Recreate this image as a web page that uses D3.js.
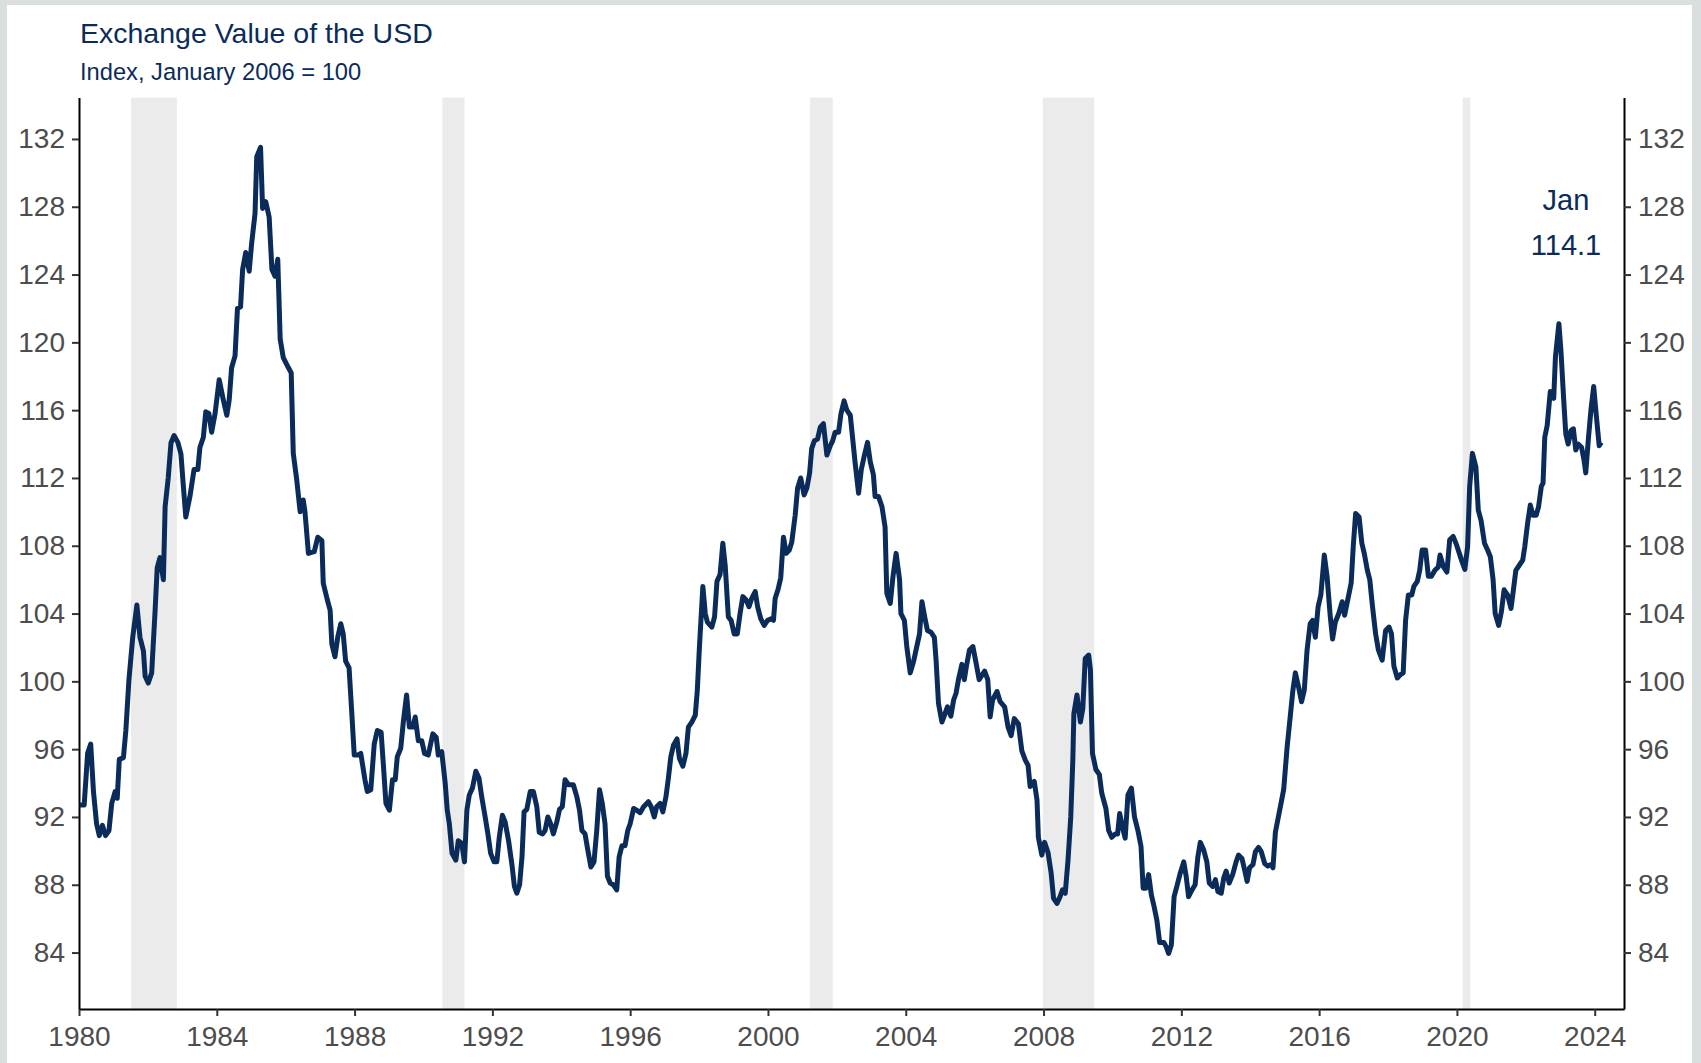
<!DOCTYPE html>
<html>
<head>
<meta charset="utf-8">
<script src="https://cdn.jsdelivr.net/npm/d3@7"></script>
<style>
  body { margin: 0; background: #d9dfdf; }
  svg { display: block; font-family: "Liberation Sans", Arial, sans-serif; }
</style>
</head>
<body>
<svg id="chart"></svg>
<script>
// DATA (decimal year, index value)
const usdSeries = [
  [1980.02, 92.7], [1980.15, 92.7], [1980.25, 95.75], [1980.34, 96.3], [1980.42, 93.5], [1980.51, 91.6],
  [1980.59, 90.9], [1980.68, 91.5], [1980.77, 90.9], [1980.87, 91.2], [1980.95, 92.8], [1981.05, 93.5],
  [1981.11, 93.1], [1981.17, 95.4], [1981.29, 95.5], [1981.36, 97.1], [1981.45, 100.1], [1981.56, 102.6],
  [1981.68, 104.5], [1981.77, 102.6], [1981.87, 101.8], [1981.92, 100.3], [1982.01, 99.9], [1982.11, 100.5],
  [1982.21, 104.2], [1982.27, 106.7], [1982.35, 107.3], [1982.45, 106.0], [1982.5, 110.3], [1982.59, 112.0],
  [1982.67, 114.06], [1982.76, 114.5], [1982.87, 114.1], [1982.96, 113.4], [1983.03, 111.5], [1983.1, 109.7],
  [1983.22, 110.9], [1983.34, 112.5], [1983.45, 112.5], [1983.51, 113.8], [1983.61, 114.4], [1983.68, 115.9],
  [1983.77, 115.8], [1983.85, 114.7], [1983.95, 115.8], [1984.07, 117.8], [1984.19, 116.6], [1984.29, 115.7],
  [1984.36, 116.6], [1984.43, 118.5], [1984.53, 119.2], [1984.6, 122.0], [1984.69, 122.1], [1984.75, 124.3],
  [1984.84, 125.3], [1984.94, 124.2], [1985.01, 125.8], [1985.11, 127.6], [1985.16, 130.95], [1985.27, 131.5],
  [1985.33, 127.9], [1985.42, 128.3], [1985.52, 127.4], [1985.6, 124.3], [1985.69, 123.9], [1985.77, 124.9],
  [1985.84, 120.2], [1985.93, 119.1], [1986.08, 118.5], [1986.16, 118.2], [1986.22, 113.45], [1986.32, 111.9],
  [1986.42, 110.0], [1986.51, 110.7], [1986.56, 110.0], [1986.66, 107.55], [1986.83, 107.65], [1986.93, 108.5],
  [1987.05, 108.3], [1987.09, 105.8], [1987.21, 104.8], [1987.29, 104.2], [1987.34, 102.2], [1987.43, 101.45],
  [1987.51, 102.6], [1987.6, 103.4], [1987.67, 102.8], [1987.74, 101.2], [1987.84, 100.8], [1987.92, 98.1],
  [1987.99, 95.65], [1988.09, 95.65], [1988.18, 95.75], [1988.3, 94.2], [1988.37, 93.5], [1988.47, 93.6],
  [1988.57, 96.3], [1988.66, 97.1], [1988.77, 97.0], [1988.84, 94.95], [1988.91, 92.8], [1989.01, 92.4],
  [1989.1, 94.2], [1989.18, 94.2], [1989.24, 95.55], [1989.34, 96.05], [1989.42, 97.7], [1989.51, 99.2],
  [1989.59, 97.3], [1989.69, 97.3], [1989.76, 97.9], [1989.85, 96.5], [1989.95, 96.5], [1990.03, 95.75],
  [1990.14, 95.65], [1990.27, 96.9], [1990.37, 96.7], [1990.43, 95.65], [1990.53, 95.85], [1990.63, 94.0],
  [1990.69, 92.4], [1990.75, 91.6], [1990.83, 89.85], [1990.94, 89.45], [1991.01, 90.6], [1991.11, 90.45],
  [1991.19, 89.35], [1991.26, 92.4], [1991.33, 93.3], [1991.42, 93.7], [1991.52, 94.7], [1991.61, 94.3],
  [1991.69, 93.2], [1991.79, 92.0], [1991.87, 91.0], [1991.95, 89.85], [1992.05, 89.35], [1992.13, 89.35],
  [1992.2, 90.8], [1992.29, 92.1], [1992.37, 91.7], [1992.47, 90.6], [1992.57, 89.15], [1992.64, 87.9],
  [1992.71, 87.5], [1992.79, 88.0], [1992.86, 89.65], [1992.92, 92.3], [1993.0, 92.45], [1993.1, 93.5],
  [1993.19, 93.5], [1993.29, 92.6], [1993.36, 91.1], [1993.46, 91.0], [1993.53, 91.2], [1993.61, 92.0],
  [1993.69, 91.6], [1993.77, 91.0], [1993.87, 91.7], [1993.95, 92.45], [1994.03, 92.6], [1994.11, 94.2],
  [1994.21, 93.9], [1994.35, 93.9], [1994.45, 93.2], [1994.53, 92.4], [1994.6, 91.2], [1994.69, 91.0],
  [1994.77, 90.05], [1994.86, 89.05], [1994.95, 89.35], [1995.03, 91.2], [1995.11, 93.6], [1995.19, 92.8],
  [1995.27, 91.6], [1995.34, 88.5], [1995.42, 88.1], [1995.51, 88.0], [1995.61, 87.7], [1995.68, 89.65],
  [1995.76, 90.3], [1995.85, 90.3], [1995.93, 91.2], [1996.0, 91.6], [1996.1, 92.5], [1996.19, 92.4],
  [1996.29, 92.25], [1996.39, 92.6], [1996.53, 92.9], [1996.61, 92.6], [1996.7, 92.0], [1996.77, 92.6],
  [1996.87, 92.8], [1996.95, 92.3], [1997.04, 93.2], [1997.11, 94.3], [1997.18, 95.55], [1997.26, 96.25],
  [1997.36, 96.6], [1997.43, 95.45], [1997.53, 95.0], [1997.62, 95.75], [1997.69, 97.3], [1997.79, 97.6],
  [1997.89, 98.0], [1997.95, 99.5], [1998.01, 102.0], [1998.11, 105.6], [1998.18, 104.0], [1998.24, 103.5],
  [1998.37, 103.2], [1998.45, 103.8], [1998.52, 105.9], [1998.61, 106.3], [1998.69, 108.15], [1998.76, 106.8],
  [1998.85, 103.8], [1998.93, 103.6], [1999.02, 102.8], [1999.11, 102.8], [1999.19, 104.0], [1999.27, 105.0],
  [1999.37, 104.8], [1999.45, 104.4], [1999.53, 104.9], [1999.63, 105.3], [1999.7, 104.4], [1999.79, 103.7],
  [1999.89, 103.3], [1999.99, 103.6], [2000.11, 103.7], [2000.16, 103.6], [2000.21, 104.9], [2000.29, 105.4],
  [2000.37, 106.1], [2000.45, 108.5], [2000.53, 107.55], [2000.62, 107.75], [2000.69, 108.2], [2000.79, 109.8],
  [2000.86, 111.4], [2000.95, 112.0], [2001.05, 111.0], [2001.13, 111.4], [2001.21, 112.3], [2001.27, 113.75],
  [2001.35, 114.2], [2001.44, 114.3], [2001.52, 115.0], [2001.61, 115.2], [2001.71, 113.35], [2001.81, 113.9],
  [2001.88, 114.2], [2001.95, 114.7], [2002.05, 114.7], [2002.12, 115.8], [2002.21, 116.55], [2002.29, 116.0],
  [2002.39, 115.7], [2002.45, 114.5], [2002.53, 112.9], [2002.63, 111.1], [2002.71, 112.5], [2002.79, 113.25],
  [2002.89, 114.1], [2002.97, 112.95], [2003.06, 112.2], [2003.11, 110.9], [2003.21, 110.9], [2003.31, 110.3],
  [2003.4, 109.1], [2003.45, 105.2], [2003.55, 104.6], [2003.63, 106.2], [2003.72, 107.55], [2003.82, 106.0],
  [2003.86, 104.0], [2003.96, 103.6], [2004.03, 102.05], [2004.13, 100.5], [2004.23, 101.2], [2004.32, 102.05],
  [2004.4, 102.8], [2004.47, 104.7], [2004.56, 103.7], [2004.63, 103.0], [2004.73, 102.9], [2004.83, 102.6],
  [2004.88, 101.25], [2004.95, 98.7], [2005.05, 97.6], [2005.14, 98.1], [2005.21, 98.5], [2005.31, 97.95],
  [2005.39, 98.9], [2005.46, 99.3], [2005.53, 100.1], [2005.63, 101.0], [2005.7, 100.1], [2005.77, 101.0],
  [2005.85, 101.85], [2005.95, 102.05], [2006.04, 101.1], [2006.13, 100.1], [2006.29, 100.6], [2006.38, 100.1],
  [2006.45, 97.9], [2006.52, 98.9], [2006.65, 99.4], [2006.74, 98.8], [2006.87, 98.5], [2006.97, 97.3],
  [2007.06, 96.8], [2007.15, 97.8], [2007.27, 97.5], [2007.37, 95.9], [2007.47, 95.35], [2007.55, 95.05],
  [2007.61, 93.8], [2007.73, 94.1], [2007.81, 93.0], [2007.85, 90.8], [2007.95, 89.75], [2008.03, 90.5],
  [2008.13, 89.9], [2008.22, 88.7], [2008.29, 87.2], [2008.39, 86.9], [2008.48, 87.3], [2008.55, 87.7],
  [2008.63, 87.5], [2008.71, 89.45], [2008.79, 92.0], [2008.85, 95.35], [2008.88, 98.1], [2008.97, 99.2],
  [2009.07, 97.6], [2009.14, 98.4], [2009.21, 101.35], [2009.31, 101.55], [2009.36, 100.7], [2009.42, 95.75],
  [2009.52, 94.8], [2009.62, 94.5], [2009.69, 93.4], [2009.81, 92.5], [2009.89, 91.2], [2009.98, 90.8],
  [2010.08, 91.0], [2010.15, 91.0], [2010.21, 92.2], [2010.29, 91.4], [2010.37, 90.75], [2010.45, 93.3],
  [2010.55, 93.7], [2010.64, 92.0], [2010.74, 91.2], [2010.83, 90.25], [2010.89, 87.8], [2010.97, 87.8],
  [2011.05, 88.6], [2011.13, 87.4], [2011.21, 86.7], [2011.29, 85.9], [2011.37, 84.6], [2011.49, 84.6],
  [2011.56, 84.35], [2011.63, 83.95], [2011.71, 84.45], [2011.79, 87.3], [2011.87, 87.9], [2011.97, 88.7],
  [2012.07, 89.35], [2012.14, 88.5], [2012.21, 87.3], [2012.31, 87.7], [2012.4, 88.0], [2012.48, 89.65],
  [2012.55, 90.5], [2012.65, 90.05], [2012.74, 89.35], [2012.81, 88.1], [2012.91, 87.9], [2012.99, 88.3],
  [2013.06, 87.6], [2013.16, 87.5], [2013.23, 88.4], [2013.3, 88.8], [2013.39, 88.1], [2013.49, 88.6],
  [2013.59, 89.35], [2013.66, 89.75], [2013.76, 89.55], [2013.84, 88.85], [2013.91, 88.2], [2013.98, 89.0],
  [2014.08, 89.2], [2014.15, 89.95], [2014.24, 90.2], [2014.32, 89.95], [2014.42, 89.25], [2014.51, 89.1],
  [2014.61, 89.2], [2014.66, 89.0], [2014.73, 91.1], [2014.97, 93.6], [2015.07, 96.1], [2015.17, 98.1],
  [2015.24, 99.5], [2015.31, 100.5], [2015.41, 99.6], [2015.49, 98.8], [2015.57, 99.5], [2015.65, 101.85],
  [2015.74, 103.4], [2015.81, 103.6], [2015.89, 102.6], [2015.97, 104.4], [2016.05, 105.1], [2016.15, 107.45],
  [2016.23, 106.2], [2016.32, 103.9], [2016.39, 102.5], [2016.47, 103.5], [2016.57, 104.0], [2016.67, 104.7],
  [2016.74, 103.9], [2016.84, 104.9], [2016.93, 105.8], [2016.99, 107.95], [2017.06, 109.9], [2017.16, 109.7],
  [2017.24, 108.15], [2017.31, 107.55], [2017.4, 106.55], [2017.47, 106.0], [2017.55, 104.4], [2017.64, 102.8],
  [2017.72, 101.85], [2017.83, 101.25], [2017.93, 103.0], [2018.03, 103.2], [2018.1, 102.8], [2018.17, 100.9],
  [2018.27, 100.2], [2018.36, 100.4], [2018.44, 100.5], [2018.51, 103.6], [2018.59, 105.1], [2018.69, 105.1],
  [2018.75, 105.6], [2018.85, 105.9], [2018.92, 106.55], [2018.99, 107.75], [2019.09, 107.75], [2019.17, 106.2],
  [2019.26, 106.2], [2019.36, 106.55], [2019.46, 106.75], [2019.51, 107.45], [2019.61, 106.75], [2019.71, 106.45],
  [2019.79, 108.35], [2019.89, 108.55], [2019.99, 108.05], [2020.07, 107.55], [2020.15, 107.05], [2020.23, 106.6],
  [2020.31, 107.95], [2020.37, 111.5], [2020.45, 113.45], [2020.55, 112.65], [2020.62, 110.1], [2020.7, 109.5],
  [2020.8, 108.15], [2020.89, 107.75], [2020.97, 107.35], [2021.05, 106.0], [2021.11, 104.0], [2021.21, 103.3],
  [2021.29, 104.1], [2021.37, 105.4], [2021.47, 105.1], [2021.57, 104.3], [2021.64, 105.4], [2021.71, 106.55],
  [2021.81, 106.85], [2021.91, 107.15], [2021.97, 107.95], [2022.05, 109.3], [2022.13, 110.4], [2022.21, 109.8],
  [2022.3, 109.8], [2022.37, 110.3], [2022.45, 111.5], [2022.5, 111.7], [2022.55, 114.4], [2022.62, 115.1],
  [2022.71, 117.1], [2022.81, 116.7], [2022.86, 119.15], [2022.96, 121.1], [2023.02, 119.5], [2023.1, 116.6],
  [2023.16, 114.6], [2023.23, 114.0], [2023.31, 114.8], [2023.38, 114.9], [2023.45, 113.65], [2023.52, 114.0],
  [2023.62, 113.8], [2023.69, 113.05], [2023.74, 112.3], [2023.82, 114.4], [2023.89, 116.0], [2023.97, 117.4],
  [2024.04, 115.8], [2024.13, 113.9], [2024.19, 114.1]
];

// recessions (decimal years)
const recessionStart = [1981.51, 1990.55, 2001.22, 2007.98, 2020.17];
const recessionEnd = [1982.84, 1991.19, 2001.88, 2009.47, 2020.39];

const xTicks = [1980, 1984, 1988, 1992, 1996, 2000, 2004, 2008, 2012, 2016, 2020, 2024];
const yTicks = [84, 88, 92, 96, 100, 104, 108, 112, 116, 120, 124, 128, 132];

const titleText = "Exchange Value of the USD";
const subtitleText = "Index, January 2006 = 100";
const lastLabel = ["Jan", "114.1"];

// SETUP
const W = 1701, H = 1063;
const plotLeft = 79, plotRight = 1624, plotTop = 97.6, plotBottom = 1009;
const navy = "#0b2c5a";

const svg = d3.select("#chart")
    .attr("width", W)
    .attr("height", H);

svg.append("rect")
    .attr("width", W).attr("height", H)
    .attr("fill", "#d9dfdf");

svg.append("rect")
    .attr("x", 7).attr("y", 5)
    .attr("width", 1685).attr("height", H - 5)
    .attr("fill", "#ffffff");

const xScale = d3.scaleLinear()
    .domain([1980, 2024.85])
    .range([plotLeft, plotRight]);

const yScale = d3.scaleLinear()
    .domain([80.67, 134.44])
    .range([plotBottom, plotTop]);

// recession bars
svg.selectAll("rect.rec")
    .data(recessionStart)
    .enter()
    .append("rect")
    .attr("class", "rec")
    .attr("x", d => xScale(d))
    .attr("y", plotTop)
    .attr("width", (d, i) => xScale(recessionEnd[i]) - xScale(d))
    .attr("height", plotBottom - plotTop)
    .attr("fill", "#ebebeb");

// axes
const styleAxis = g => {
    g.selectAll(".domain").attr("stroke", "#000").attr("stroke-width", 2);
    g.selectAll(".tick line").attr("stroke", "#333").attr("stroke-width", 2);
    g.selectAll(".tick text")
        .attr("fill", "#4d4d4d")
        .style("font-size", "28px")
        .style("font-family", "'Liberation Sans', Arial, sans-serif");
};

svg.append("g")
    .attr("transform", `translate(${plotLeft},0)`)
    .call(d3.axisLeft(yScale).tickValues(yTicks).tickSize(7).tickSizeOuter(0).tickPadding(7))
    .call(styleAxis);

svg.append("g")
    .attr("transform", `translate(${plotRight},0)`)
    .call(d3.axisRight(yScale).tickValues(yTicks).tickSize(7).tickSizeOuter(0).tickPadding(7))
    .call(styleAxis);

svg.append("g")
    .attr("transform", `translate(0,${plotBottom})`)
    .call(d3.axisBottom(xScale).tickValues(xTicks).tickFormat(d3.format("d")).tickSize(7).tickSizeOuter(0).tickPadding(10))
    .call(styleAxis);

// line
const line = d3.line()
    .x(d => xScale(d[0]))
    .y(d => yScale(d[1]));

svg.append("path")
    .datum(usdSeries)
    .attr("fill", "none")
    .attr("stroke", navy)
    .attr("stroke-width", 5)
    .attr("stroke-linejoin", "round")
    .attr("d", line);

// titles
svg.append("text")
    .attr("x", 80).attr("y", 43)
    .attr("fill", navy)
    .style("font-size", "28.5px")
    .text(titleText);

svg.append("text")
    .attr("x", 80).attr("y", 80)
    .attr("fill", navy)
    .style("font-size", "23.7px")
    .text(subtitleText);

// last value label
svg.selectAll("text.last")
    .data(lastLabel)
    .enter()
    .append("text")
    .attr("class", "last")
    .attr("x", 1566)
    .attr("y", (d, i) => 210 + i * 45)
    .attr("text-anchor", "middle")
    .attr("fill", navy)
    .style("font-size", "29px")
    .text(d => d);
</script>
</body>
</html>
